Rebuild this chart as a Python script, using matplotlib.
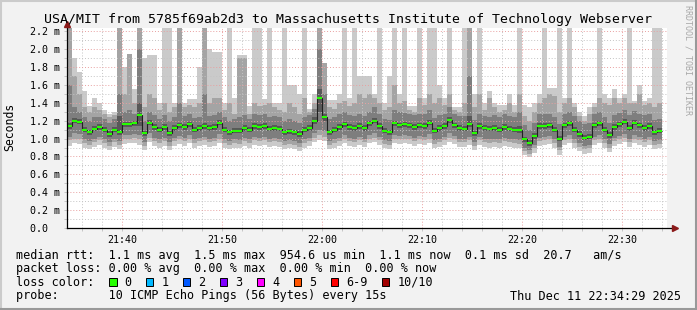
import datetime as dt
import numpy as np
import matplotlib
matplotlib.use("Agg")
import matplotlib.pyplot as plt
import matplotlib.dates as mdates
from matplotlib.patches import Rectangle
from matplotlib.lines import Line2D
from matplotlib.ticker import MultipleLocator, FuncFormatter

# rtt values in units of 10 us (0.01 ms), one value per 30 s step
# sorted pings: p1 = fastest ... p10 = slowest (260 = off the top)
median = [114, 120, 119, 110, 107, 111, 113, 110, 105, 110,
          107, 116, 116, 117, 126, 106, 118, 113, 110, 113,
          106, 112, 115, 113, 116, 110, 112, 114, 112, 113,
          118, 110, 107, 109, 109, 112, 110, 114, 113, 114,
          111, 112, 111, 107, 108, 107, 105, 110, 112, 120,
          145, 124, 107, 110, 113, 116, 113, 112, 114, 112,
          117, 120, 114, 109, 107, 117, 115, 116, 115, 113,
          115, 114, 118, 109, 112, 114, 121, 115, 112, 111,
          116, 106, 114, 112, 111, 112, 110, 113, 111, 110,
          110, 99, 95, 103, 114, 114, 115, 110, 100, 115,
          117, 110, 105, 101, 102, 115, 117, 110, 104, 113,
          116, 119, 112, 118, 115, 112, 114, 107, 109]

p10 = [260, 190, 175, 153, 136, 145, 140, 132, 128, 130,
       260, 180, 195, 156, 260, 190, 193, 193, 140, 260,
       260, 140, 260, 140, 144, 144, 180, 260, 200, 197,
       197, 140, 260, 145, 193, 193, 136, 260, 260, 144,
       260, 140, 140, 260, 160, 160, 150, 260, 133, 150,
       260, 184, 143, 143, 150, 260, 145, 260, 170, 170,
       170, 150, 260, 140, 170, 260, 150, 260, 136, 136,
       260, 145, 260, 260, 160, 145, 260, 135, 135, 260,
       260, 150, 260, 140, 153, 140, 138, 138, 150, 138,
       260, 138, 135, 140, 150, 260, 157, 157, 260, 145,
       260, 140, 130, 125, 135, 140, 260, 150, 145, 155,
       145, 150, 260, 142, 160, 142, 145, 260, 260]

p9 = [260, 170, 150, 135, 130, 135, 132, 128, 124, 126,
      260, 150, 195, 140, 260, 135, 150, 145, 132, 140,
      130, 135, 260, 135, 138, 135, 140, 260, 140, 145,
      145, 132, 140, 128, 190, 190, 128, 140, 136, 138,
      140, 135, 132, 130, 140, 135, 128, 145, 130, 140,
      260, 184, 135, 133, 140, 142, 136, 140, 150, 145,
      150, 145, 140, 132, 135, 160, 140, 142, 132, 130,
      145, 138, 150, 140, 145, 138, 150, 132, 130, 140,
      260, 135, 150, 132, 145, 135, 130, 132, 140, 130,
      150, 125, 120, 130, 140, 145, 150, 148, 130, 140,
      145, 135, 125, 120, 128, 135, 145, 140, 138, 145,
      140, 145, 140, 140, 150, 138, 140, 135, 140]

p8 = [160, 135, 130, 124, 120, 124, 124, 122, 118, 122,
      150, 130, 132, 128, 200, 120, 130, 126, 122, 126,
      120, 124, 140, 125, 128, 123, 124, 150, 125, 126,
      130, 124, 120, 122, 124, 126, 122, 127, 126, 128,
      124, 125, 124, 120, 122, 120, 118, 124, 126, 133,
      200, 150, 122, 124, 127, 130, 126, 125, 128, 125,
      130, 135, 128, 122, 121, 132, 130, 129, 128, 126,
      128, 127, 132, 123, 126, 128, 135, 128, 125, 125,
      170, 121, 128, 125, 124, 126, 124, 127, 125, 124,
      130, 115, 110, 117, 127, 128, 128, 124, 116, 128,
      130, 125, 120, 116, 117, 128, 130, 124, 118, 126,
      129, 132, 126, 131, 128, 126, 128, 121, 122]

p7 = [117, 123, 122, 113, 110, 114, 116, 113, 108, 113,
      125, 119, 119, 120, 140, 109, 121, 116, 113, 116,
      109, 115, 118, 116, 119, 113, 115, 117, 115, 116,
      121, 113, 110, 112, 112, 115, 113, 117, 116, 117,
      114, 115, 114, 110, 111, 110, 108, 113, 115, 124,
      155, 128, 110, 113, 116, 119, 116, 115, 117, 115,
      120, 123, 117, 112, 110, 120, 118, 119, 118, 116,
      118, 117, 121, 112, 115, 117, 124, 118, 115, 114,
      125, 109, 117, 115, 114, 115, 113, 116, 114, 113,
      114, 102, 98, 106, 117, 117, 118, 113, 103, 118,
      120, 113, 108, 104, 105, 118, 120, 113, 107, 116,
      119, 122, 115, 121, 118, 115, 117, 110, 112]

p4 = [111, 117, 116, 107, 104, 108, 110, 107, 102, 107,
      104, 113, 113, 114, 114, 103, 115, 110, 107, 110,
      103, 109, 112, 110, 113, 107, 109, 111, 109, 110,
      115, 107, 104, 106, 106, 109, 107, 111, 110, 111,
      108, 109, 108, 104, 105, 104, 102, 107, 109, 116,
      130, 120, 104, 107, 110, 113, 110, 109, 111, 109,
      114, 117, 111, 106, 104, 114, 112, 113, 112, 110,
      112, 111, 115, 106, 109, 111, 118, 112, 109, 108,
      113, 103, 111, 109, 108, 109, 107, 110, 108, 107,
      106, 96, 92, 100, 111, 111, 112, 107, 97, 112,
      114, 107, 102, 98, 99, 112, 114, 107, 101, 110,
      113, 116, 109, 115, 112, 109, 111, 104, 106]

p3 = [102, 106, 105, 99, 97, 100, 102, 99, 96, 100,
      97, 104, 104, 105, 104, 96, 106, 101, 99, 101,
      96, 101, 103, 101, 104, 99, 101, 102, 100, 101,
      105, 99, 97, 99, 98, 101, 99, 102, 101, 102,
      100, 101, 100, 97, 98, 97, 95, 99, 101, 106,
      110, 108, 97, 99, 101, 104, 101, 100, 102, 100,
      104, 106, 102, 98, 97, 104, 103, 104, 103, 101,
      103, 102, 105, 98, 100, 102, 106, 103, 100, 100,
      102, 96, 102, 100, 99, 100, 99, 101, 100, 99,
      98, 90, 87, 93, 101, 102, 103, 99, 91, 102,
      104, 99, 95, 92, 93, 102, 104, 99, 94, 101,
      103, 105, 100, 104, 102, 100, 102, 97, 98]

p2 = [98, 100, 100, 95, 93, 96, 98, 95, 92, 96,
      93, 100, 100, 101, 99, 92, 101, 97, 95, 97,
      92, 97, 99, 97, 100, 95, 97, 98, 96, 97,
      100, 95, 93, 95, 94, 97, 95, 98, 97, 98,
      96, 97, 96, 93, 94, 93, 91, 95, 97, 101,
      104, 102, 93, 95, 97, 100, 97, 96, 98, 96,
      100, 101, 98, 94, 93, 100, 99, 100, 99, 97,
      99, 98, 100, 94, 96, 98, 101, 99, 96, 96,
      98, 92, 98, 96, 95, 96, 95, 97, 96, 95,
      94, 86, 83, 89, 97, 98, 99, 95, 87, 98,
      100, 95, 91, 88, 89, 98, 100, 95, 90, 97,
      99, 101, 96, 100, 98, 96, 98, 93, 94]

p1 = [92, 95, 94, 90, 88, 91, 93, 90, 87, 91,
      88, 94, 95, 95, 93, 87, 96, 92, 90, 92,
      87, 92, 94, 92, 95, 90, 92, 93, 91, 92,
      95, 90, 88, 90, 89, 92, 90, 93, 92, 93,
      91, 92, 91, 88, 89, 88, 86, 90, 92, 96,
      98, 97, 88, 90, 92, 95, 92, 91, 93, 91,
      95, 96, 93, 89, 88, 95, 94, 95, 94, 92,
      94, 93, 95, 89, 91, 93, 96, 94, 91, 91,
      93, 87, 93, 91, 90, 91, 90, 92, 91, 90,
      89, 82, 79, 84, 92, 93, 94, 90, 82, 93,
      95, 90, 86, 83, 84, 93, 95, 90, 85, 92,
      94, 96, 91, 95, 93, 91, 93, 88, 89]

loss_labels = ["0", "1", "2", "3", "4", "5", "6-9", "10/10"]
loss_colors = ["#26ff00", "#00b8ff", "#0059ff", "#7e00ff", "#ff00ff",
               "#ff5500", "#ff0000", "#a10000"]

title = "USA/MIT from 5785f69ab2d3 to Massachusetts Institute of Technology Webserver"
stats_rtt = "median rtt:  1.1 ms avg  1.5 ms max  954.6 us min  1.1 ms now  0.1 ms sd  20.7   am/s"
stats_loss = "packet loss: 0.00 % avg  0.00 % max  0.00 % min  0.00 % now"
probe = "probe:       10 ICMP Echo Pings (56 Bytes) every 15s"
stamp = "Thu Dec 11 22:34:29 2025"

start = dt.datetime(2025, 12, 11, 21, 34, 30)
end = dt.datetime(2025, 12, 11, 22, 34, 30)
step = dt.timedelta(seconds=30)

def sec(a):
    return np.array(a) * 1e-5

plt.rcParams['font.family'] = ['DejaVu Sans Mono']

W, H = 697, 310
fig = plt.figure(figsize=(W / 100, H / 100), dpi=100, facecolor="#f2f2f2")
ax = fig.add_axes([67 / W, 82 / H, 600 / W, 200 / H])
ax.set_facecolor("white")

edges = mdates.date2num([start + step * i for i in range(len(median) + 1)])

# smoke: outer band lightest, inner bands darker
bands = [(p1, p10, "#cacaca"), (p2, p9, "#a4a4a4"),
         (p3, p8, "#7e7e7e"), (p4, p7, "#585858")]
for lo, hi, c in bands:
    ax.stairs(sec(hi), edges, baseline=sec(lo), fill=True, color=c, lw=0, zorder=1)

# median line
ax.stairs(sec(median), edges, baseline=None, color="#202020", lw=0.8, zorder=3)
ax.hlines(sec(median), edges[:-1], edges[1:], color=loss_colors[0], lw=1.5, zorder=4)

ax.set_xlim(mdates.date2num(start), mdates.date2num(end))
ax.set_ylim(0, 2.237e-3)

ax.xaxis.set_major_locator(mdates.MinuteLocator(byminute=range(0, 60, 10)))
ax.xaxis.set_minor_locator(mdates.MinuteLocator(byminute=range(0, 60, 2)))
ax.xaxis.set_major_formatter(mdates.DateFormatter("%H:%M"))
ax.yaxis.set_major_locator(MultipleLocator(2e-4))
ax.yaxis.set_minor_locator(MultipleLocator(1e-4))
ax.yaxis.set_major_formatter(FuncFormatter(
    lambda v, p: "0.0  " if abs(v) < 1e-9 else "%.1f m" % (v * 1e3)))

ax.set_axisbelow(False)
ax.grid(which="major", color="#e8a0a0", ls=(0, (1, 2)), lw=0.7)
ax.grid(which="minor", color="#c4c4c4", ls=(0, (1, 2)), lw=0.7)
ax.tick_params(which="both", length=2, width=0.7, color="#c4c4c4",
               labelsize=7.2, pad=3)

for s in ["top", "right", "left", "bottom"]:
    ax.spines[s].set_visible(False)
# axes with arrows
ax.plot([0, 1.01], [0, 0], color="black", lw=0.9, transform=ax.transAxes, clip_on=False, zorder=5)
ax.plot([0, 0], [0, 1.0], color="black", lw=0.9, transform=ax.transAxes, clip_on=False, zorder=5)
ax.plot([1.013], [0], marker=">", ms=4.5, color="#8b1a1a", transform=ax.transAxes, clip_on=False, zorder=6)
ax.plot([0], [1.02], marker="^", ms=4.5, color="#8b1a1a", transform=ax.transAxes, clip_on=False, zorder=6)

# texts
fig.text(348.5 / W, 1 - 19 / H, title, ha="center", va="center", fontsize=9.5)
fig.text(10 / W, 1 - 127 / H, "Seconds", rotation=90, ha="center", va="center", fontsize=8.3)
fig.text(688 / W, 1 - 5 / H, "RRDTOOL / TOBI OETIKER", rotation=270, ha="center",
         va="top", fontsize=6, color="#a8a8a8")

fs = 8.5
fig.text(16 / W, 1 - 255 / H, stats_rtt, ha="left", va="center", fontsize=fs)
fig.text(16 / W, 1 - 268.5 / H, stats_loss, ha="left", va="center", fontsize=fs)
fig.text(16 / W, 1 - 282 / H, "loss color:", ha="left", va="center", fontsize=fs)
fig.text(16 / W, 1 - 296 / H, probe, ha="left", va="center", fontsize=fs)
fig.text(681 / W, 1 - 296 / H, stamp, ha="right", va="center", fontsize=fs)

x = 109.0
for lab, c in zip(loss_labels, loss_colors):
    fig.add_artist(Rectangle((x / W, 1 - 286 / H), 7.5 / W, 8 / H, transform=fig.transFigure,
                             facecolor=c, edgecolor="black", lw=0.7))
    fig.text((x + 15.5) / W, 1 - 282 / H, lab, ha="left", va="center", fontsize=fs)
    x = x + 15.5 + len(lab) * 7.12 + 14.3

# 3d-ish frame
fig.add_artist(Line2D([0, 1], [1 - 1 / H, 1 - 1 / H], color="#cbcbcb", lw=1.5, transform=fig.transFigure))
fig.add_artist(Line2D([1 / W, 1 / W], [0, 1], color="#cbcbcb", lw=1.5, transform=fig.transFigure))
fig.add_artist(Line2D([0, 1], [1 / H, 1 / H], color="#999999", lw=1.5, transform=fig.transFigure))
fig.add_artist(Line2D([1 - 1 / W, 1 - 1 / W], [0, 1], color="#999999", lw=1.5, transform=fig.transFigure))

fig.savefig("out.png", dpi=100, facecolor=fig.get_facecolor())
